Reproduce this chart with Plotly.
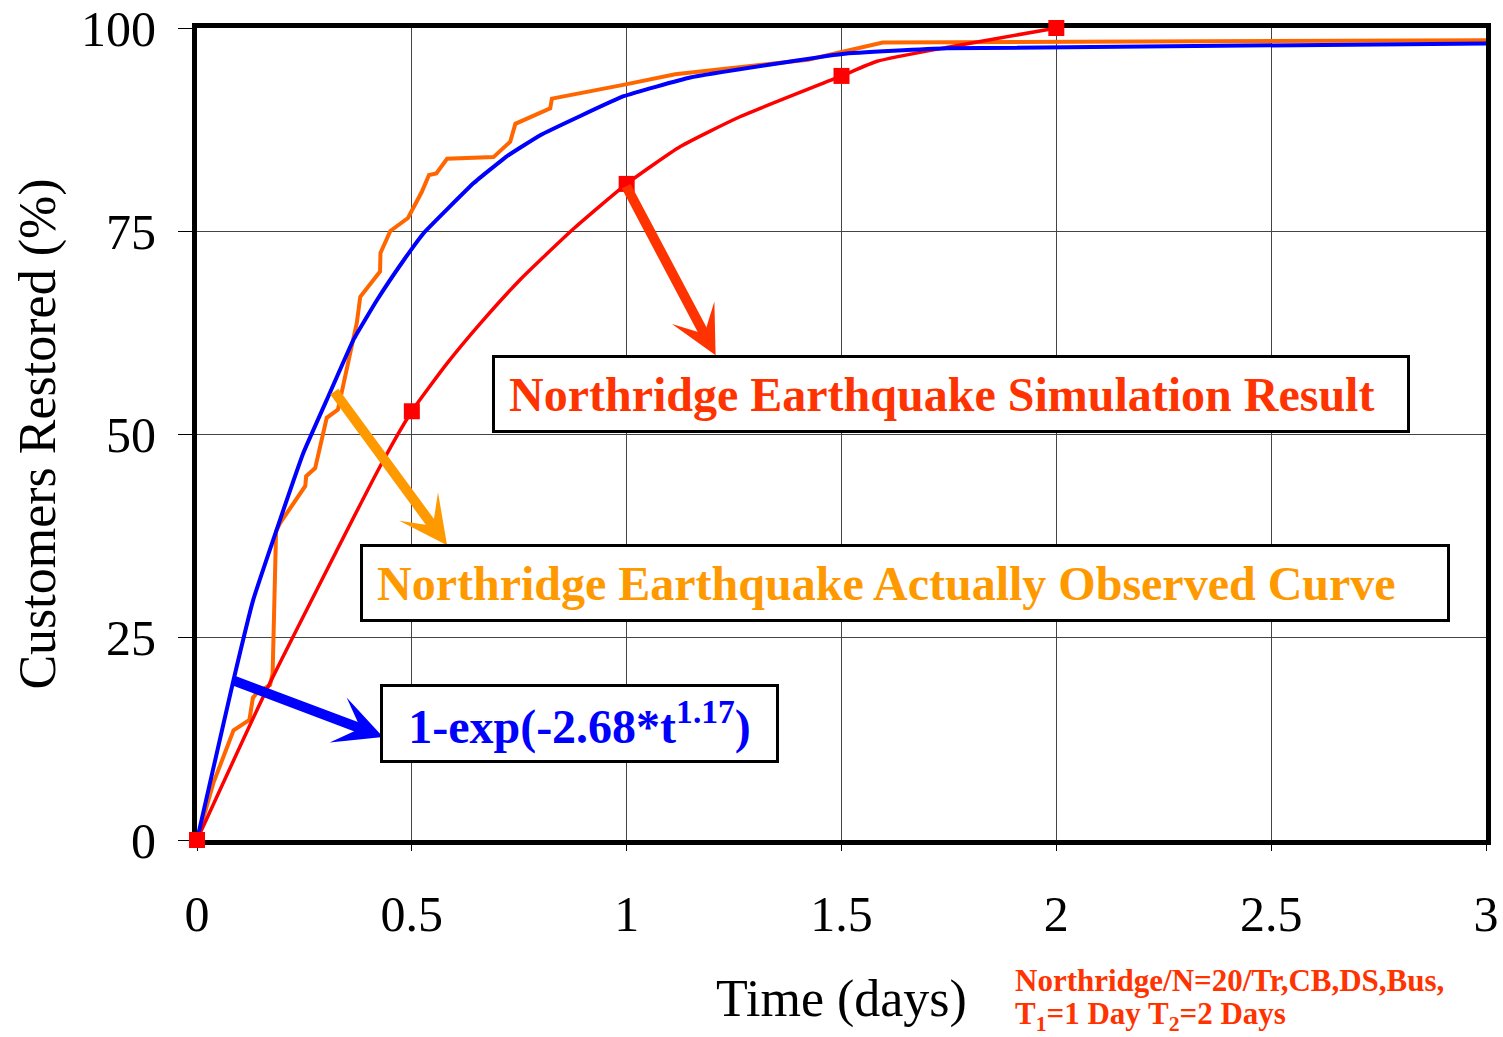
import plotly.graph_objects as go

# ---- data ----
obs_t = [0, 0.038, 0.085, 0.122, 0.130, 0.139, 0.170, 0.176, 0.184, 0.193, 0.252, 0.254, 0.275,
         0.302, 0.328, 0.349, 0.372, 0.380, 0.426, 0.427, 0.450, 0.491, 0.523, 0.540, 0.557,
         0.582, 0.690, 0.729, 0.741, 0.822, 0.826, 0.992, 1.113, 1.422, 1.596, 3.0]
obs_y = [0, 7.0, 13.5, 14.8, 17.5, 18.1, 19.1, 20.5, 38.0, 39.0, 43.6, 44.8, 45.8,
         52.0, 53.0, 58.1, 63.7, 66.9, 70.0, 72.3, 75.0, 76.6, 79.8, 81.9, 82.1,
         83.9, 84.1, 86.0, 88.2, 90.1, 91.3, 93.0, 94.3, 96.1, 98.2, 98.5]

fit_t = [0, 0.037, 0.085, 0.131, 0.193, 0.247, 0.302, 0.364, 0.419, 0.481, 0.527, 0.644,
         0.721, 0.799, 0.993, 1.148, 1.502, 1.745, 3.0]
fit_y = [0, 8.6, 19.7, 29.6, 39.4, 47.6, 54.2, 61.6, 66.5, 71.4, 74.7, 80.9,
         84.2, 86.8, 91.6, 93.9, 96.8, 97.5, 98.1]

sim_t = [0, 0.162, 0.426, 0.5, 0.582, 0.659, 0.752, 0.877, 1.0, 1.125, 1.265, 1.5, 1.583, 1.754, 2.0]
sim_y = [0, 18.5, 46.0, 52.8, 58.7, 63.6, 69.0, 75.3, 80.8, 85.4, 89.1, 94.1, 95.9, 97.7, 100]

sim_mark_t = [0, 0.5, 1.0, 1.5, 2.0]
sim_mark_y = [0, 52.8, 80.8, 94.1, 100]

x_ticks = [0, 0.5, 1, 1.5, 2, 2.5, 3]
x_labels = ["0", "0.5", "1", "1.5", "2", "2.5", "3"]
y_ticks = [0, 25, 50, 75, 100]

SERIF = "Liberation Serif, Times New Roman, serif"
RED_TXT = "#FF3300"
ORANGE_TXT = "#FF9900"
NB = "\u00a0"

fig = go.Figure()
fig.add_trace(go.Scatter(x=obs_t, y=obs_y, mode="lines",
                         line=dict(color="#FF6600", width=4), showlegend=False))
fig.add_trace(go.Scatter(x=sim_t, y=sim_y, mode="lines",
                         line=dict(color="#FF0000", width=3.5, shape="spline", smoothing=0.5),
                         showlegend=False))
fig.add_trace(go.Scatter(x=fit_t, y=fit_y, mode="lines",
                         line=dict(color="#0000FF", width=4, shape="spline", smoothing=0.3),
                         showlegend=False))
fig.add_trace(go.Scatter(x=sim_mark_t, y=sim_mark_y, mode="markers",
                         marker=dict(symbol="square", size=16, color="#FF0000"),
                         cliponaxis=False, showlegend=False))

annotations = []
# arrows
for (tip, tail, col) in [((1.207, 59.7), (0.997, 80.7), RED_TXT),
                         ((0.582, 36.3), (0.317, 55.4), ORANGE_TXT),
                         ((0.433, 12.7), (0.082, 19.7), "#0000FF")]:
    annotations.append(dict(x=tip[0], y=tip[1], ax=tail[0], ay=tail[1],
                            xref="x", yref="y", axref="x", ayref="y",
                            text="", showarrow=True, arrowhead=3, arrowsize=0.8,
                            arrowwidth=10, arrowcolor=col))
# label boxes
annotations.append(dict(x=1.755, y=54.9, xref="x", yref="y",
                        text=NB + "<b>Northridge Earthquake Simulation Result</b>",
                        font=dict(family=SERIF, size=48, color=RED_TXT),
                        showarrow=False, bgcolor="white", bordercolor="black",
                        borderwidth=3, borderpad=2, width=908, height=68, align="left"))
annotations.append(dict(x=1.648, y=31.7, xref="x", yref="y",
                        text=NB + "<b>Northridge Earthquake Actually Observed Curve</b>",
                        font=dict(family=SERIF, size=48, color=ORANGE_TXT),
                        showarrow=False, bgcolor="white", bordercolor="black",
                        borderwidth=3, borderpad=2, width=1080, height=68, align="left"))
annotations.append(dict(x=0.890, y=14.3, xref="x", yref="y",
                        text="<b>1-exp(-2.68*t<sup>1.17</sup>)</b>",
                        font=dict(family=SERIF, size=48, color="#0000FF"),
                        showarrow=False, bgcolor="white", bordercolor="black",
                        borderwidth=3, borderpad=2, width=389, height=69, align="center"))
# footnote (two lines)
for txt, py in [("<b>Northridge/N=20/Tr,CB,DS,Bus,</b>", 980),
                ("<b>T<sub>1</sub>=1 Day T<sub>2</sub>=2 Days</b>", 1016)]:
    annotations.append(dict(x=(1013 - 197) / 1289, y=(840 - py) / 812,
                            xref="paper", yref="paper",
                            xanchor="left", yanchor="middle", align="left",
                            text=txt, font=dict(family=SERIF, size=31, color=RED_TXT),
                            showarrow=False))

fig.update_layout(
    width=1503, height=1037,
    margin=dict(l=197, r=17, t=28, b=197, autoexpand=False),
    plot_bgcolor="white", paper_bgcolor="white",
    font=dict(family=SERIF, color="black"),
    annotations=annotations,
    xaxis=dict(range=[0, 3], tickvals=x_ticks, ticktext=x_labels,
               tickfont=dict(size=50, family=SERIF), ticks="outside", ticklen=6,
               tickcolor="black", ticklabelstandoff=20, automargin=False,
               showgrid=True, gridcolor="#444", gridwidth=1, layer="below traces",
               showline=True, linecolor="black", linewidth=5, mirror=True,
               zeroline=False,
               title=dict(text="Time (days)", font=dict(size=52, family=SERIF), standoff=40)),
    yaxis=dict(range=[0, 100], tickvals=y_ticks,
               tickfont=dict(size=50, family=SERIF), ticks="outside", ticklen=14,
               tickcolor="black", ticklabelstandoff=12, automargin=False,
               showgrid=True, gridcolor="#444", gridwidth=1, layer="below traces",
               showline=True, linecolor="black", linewidth=5, mirror=True,
               zeroline=False,
               title=dict(text="Customers Restored (%)", font=dict(size=52, family=SERIF), standoff=10)),
)

fig.write_html("out.html")
